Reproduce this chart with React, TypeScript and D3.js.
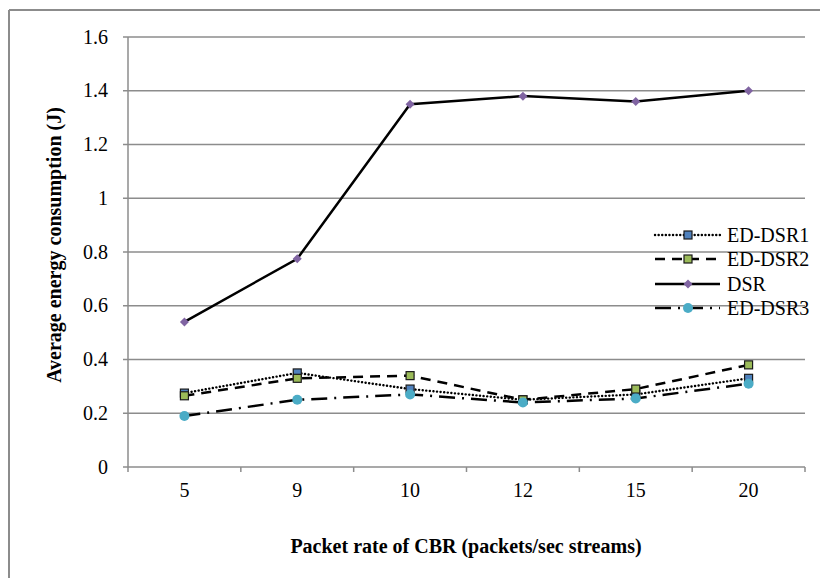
import React from "react";
import * as d3 from "d3";

const categories = ["5", "9", "10", "12", "15", "20"];
const edDsr1 = [0.275, 0.35, 0.29, 0.25, 0.27, 0.33];
const edDsr2 = [0.265, 0.33, 0.34, 0.25, 0.29, 0.38];
const dsr = [0.54, 0.775, 1.35, 1.38, 1.36, 1.4];
const edDsr3 = [0.19, 0.25, 0.27, 0.24, 0.255, 0.31];
const yTicks = [0, 0.2, 0.4, 0.6, 0.8, 1, 1.2, 1.4, 1.6];

type Series = {
  name: string;
  values: number[];
  dash: string;
  width: number;
  cap: "round" | "butt";
  marker: "square" | "diamond" | "circle";
  fill: string;
};

const series: Series[] = [
  { name: "ED-DSR1", values: edDsr1, dash: "0.1 3.5", width: 2.4, cap: "round", marker: "square", fill: "#4F81BD" },
  { name: "ED-DSR2", values: edDsr2, dash: "10 7", width: 2.5, cap: "butt", marker: "square", fill: "#9BBB59" },
  { name: "DSR", values: dsr, dash: "none", width: 2.5, cap: "butt", marker: "diamond", fill: "#8064A2" },
  { name: "ED-DSR3", values: edDsr3, dash: "16 7 2 7", width: 2.5, cap: "butt", marker: "circle", fill: "#4BACC6" },
];

const W = 820;
const H = 578;
const left = 128;
const right = 805;
const top = 37;
const bottom = 467;
const fontStyle = { fontFamily: '"Liberation Serif", "Times New Roman", Times, serif' };
const grid = "#8c8c8c";

function Marker({ kind, x, y, fill }: { kind: string; x: number; y: number; fill: string }) {
  if (kind === "square") {
    return <rect x={x - 4} y={y - 4} width={8} height={8} fill={fill} stroke="#1a1a1a" strokeWidth={1.2} />;
  }
  if (kind === "diamond") {
    return <path d={`M${x},${y - 4.5}L${x + 4.5},${y}L${x},${y + 4.5}L${x - 4.5},${y}Z`} fill={fill} />;
  }
  return <circle cx={x} cy={y} r={5} fill={fill} />;
}

export default function App() {
  const x = d3.scaleBand<string>().domain(categories).range([left, right]);
  const y = d3.scaleLinear().domain([0, 1.6]).range([bottom, top]);
  const cx = (c: string) => (x(c) ?? 0) + x.bandwidth() / 2;
  const line = d3
    .line<number>()
    .x((_, i) => cx(categories[i]))
    .y((v) => y(v));

  const legendX = 655;
  const legendY = [235, 259, 284, 308];

  return (
    <svg width={W} height={H} style={{ position: "absolute", left: 0, top: 0, background: "#fff" }}>
      <rect x={0} y={0} width={W} height={H} fill="#fff" />
      {/* outer frame */}
      <line x1={9} y1={10} x2={W} y2={10} stroke={grid} strokeWidth={2} />
      <line x1={9} y1={10} x2={9} y2={H} stroke={grid} strokeWidth={2} />

      {/* gridlines and y ticks */}
      {yTicks.map((t) => (
        <g key={t}>
          <line x1={left - 5} x2={right} y1={y(t)} y2={y(t)} stroke={grid} strokeWidth={1.5} />
          <text x={108} y={y(t) + 6.5} textAnchor="end" style={fontStyle} fontSize={20} fill="#000">
            {String(t)}
          </text>
        </g>
      ))}
      {/* axes */}
      <line x1={left} x2={left} y1={top} y2={bottom} stroke={grid} strokeWidth={1.5} />
      {categories.map((c, i) => (
        <line key={"t" + c} x1={left + i * x.step()} x2={left + i * x.step()} y1={bottom} y2={bottom + 5} stroke={grid} strokeWidth={1.5} />
      ))}
      <line x1={right} x2={right} y1={bottom} y2={bottom + 5} stroke={grid} strokeWidth={1.5} />
      {categories.map((c) => (
        <text key={"l" + c} x={cx(c)} y={497} textAnchor="middle" style={fontStyle} fontSize={20} fill="#000">
          {c}
        </text>
      ))}

      {/* series */}
      {series.map((s) => (
        <g key={s.name}>
          <path
            d={line(s.values) ?? ""}
            fill="none"
            stroke="#000"
            strokeWidth={s.width}
            strokeDasharray={s.dash}
            strokeLinecap={s.cap}
          />
          {s.values.map((v, i) => (
            <Marker key={i} kind={s.marker} x={cx(categories[i])} y={y(v)} fill={s.fill} />
          ))}
        </g>
      ))}

      {/* legend */}
      {series.map((s, i) => (
        <g key={"lg" + s.name}>
          <line
            x1={legendX}
            x2={legendX + 65}
            y1={legendY[i]}
            y2={legendY[i]}
            stroke="#000"
            strokeWidth={s.width}
            strokeDasharray={s.dash}
            strokeLinecap={s.cap}
          />
          <Marker kind={s.marker} x={legendX + 33} y={legendY[i]} fill={s.fill} />
          <text x={727} y={legendY[i] + 6.5} style={fontStyle} fontSize={20} fill="#000">
            {s.name}
          </text>
        </g>
      ))}

      {/* axis titles */}
      <text x={466} y={553} textAnchor="middle" style={fontStyle} fontSize={20} fontWeight="bold" fill="#000">
        Packet rate of CBR (packets/sec streams)
      </text>
      <text
        transform={`translate(61, 245) rotate(-90)`}
        textAnchor="middle"
        style={fontStyle}
        fontSize={20}
        fontWeight="bold"
        fill="#000"
      >
        Average energy consumption (J)
      </text>
    </svg>
  );
}
